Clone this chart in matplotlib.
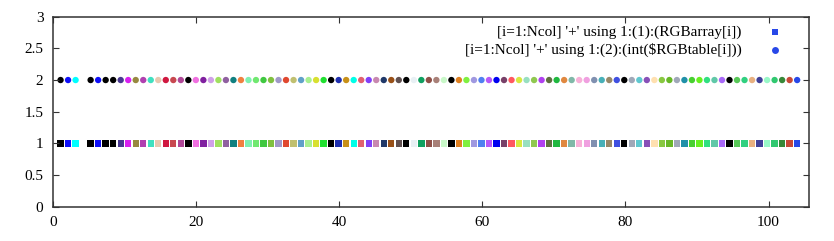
import numpy as np
import matplotlib
matplotlib.use("Agg")
import matplotlib.pyplot as plt
from matplotlib.ticker import FuncFormatter, MultipleLocator

# colours of the '+' samples, left to right (first one is white, hidden under the border)
rgb_colors = [
    "#ffffff", "#000000", "#1010f8", "#00ffff", "#ffffff", "#000000", "#1010f8", "#000000",
    "#000000", "#483890", "#d820f0", "#988840", "#b040b0", "#40e0c0", "#e8c8b0", "#d01840",
    "#c84850", "#b04898", "#000000", "#f070e0", "#8020a0", "#d0a0e8", "#a0e060", "#9060a0",
    "#108080", "#f08040", "#80f0b0", "#70e870", "#40c840", "#80c040", "#a098c8", "#e04830",
    "#c0c070", "#60a0c8", "#a8f090", "#d8e030", "#20e030", "#000000", "#2030b0", "#c89018",
    "#00ffe8", "#e06070", "#8040f8", "#c888b0", "#203868", "#985018", "#605050", "#000000",
    "#e8f0f4", "#10a060", "#905048", "#a88078", "#c8f8c8", "#000000", "#e08020", "#80f040",
    "#a098e0", "#5080f0", "#b858f8", "#0000f0", "#784068", "#ff5860", "#d8e840", "#98e0c0",
    "#90c850", "#b040f0", "#607040", "#20b840", "#e08840", "#80b8a8", "#f8b0d8", "#f0a0e0",
    "#8090b0", "#48b0b8", "#988868", "#4050e0", "#000000", "#a0a8b8", "#60c8d0", "#8850b8",
    "#ffe0b0", "#88c840", "#68b828", "#a0a8b8", "#2090a8", "#48d030", "#68f020", "#30e080",
    "#60c8a8", "#a868f8", "#000000", "#58c858", "#30d080", "#e8b080", "#404098", "#98f8c8",
    "#30c870", "#388838", "#c84838", "#2848e8",
]
n_samples = len(rgb_colors)
x_min, x_max = 0, 104          # sampling range of the '+' pseudo file
xs = np.linspace(x_min, x_max, n_samples)

labels = ["[i=1:Ncol] '+' using 1:(1):(RGBarray[i])",
          "[i=1:Ncol] '+' using 1:(2):(int($RGBtable[i]))"]
row_y = [1, 2]
row_marker = ["s", "o"]

plt.rcParams['font.family'] = ['Liberation Serif', 'DejaVu Serif']
plt.rcParams['font.size'] = 11

fig = plt.figure(figsize=(8.34, 2.41), dpi=100)
ax = fig.add_axes([0.0636, 0.1423, 0.9068, 0.7884])

for y, m in zip(row_y, row_marker):
    ax.scatter(xs, np.full(n_samples, y), c=rgb_colors, marker=m, s=21, linewidths=0)

ax.set_xlim(0, 105.7)
ax.set_ylim(0, 3)
ax.xaxis.set_major_locator(MultipleLocator(20))
ax.yaxis.set_major_locator(MultipleLocator(0.5))
ax.yaxis.set_major_formatter(FuncFormatter(lambda v, p: "%g" % v))
ax.tick_params(direction='in', length=4.5, width=0.8, top=True, right=True,
               color='#333333', labelsize=11)
ax.tick_params(axis='y', pad=7)
ax.tick_params(axis='x', pad=7)
for s in ax.spines.values():
    s.set_linewidth(1.1)
    s.set_color('#333333')

# key, gnuplot style: text right aligned, sample to the right
key_y = [0.918, 0.825]
for lab, m, ky in zip(labels, row_marker, key_y):
    ax.text(0.9106, ky, lab, transform=ax.transAxes, ha='right', va='center', fontsize=11)
    ax.plot([0.9547], [ky], transform=ax.transAxes, linestyle='none', marker=m,
            markersize=5, markerfacecolor=rgb_colors[-1], markeredgewidth=0, clip_on=False)

fig.savefig("out.png", dpi=100)
